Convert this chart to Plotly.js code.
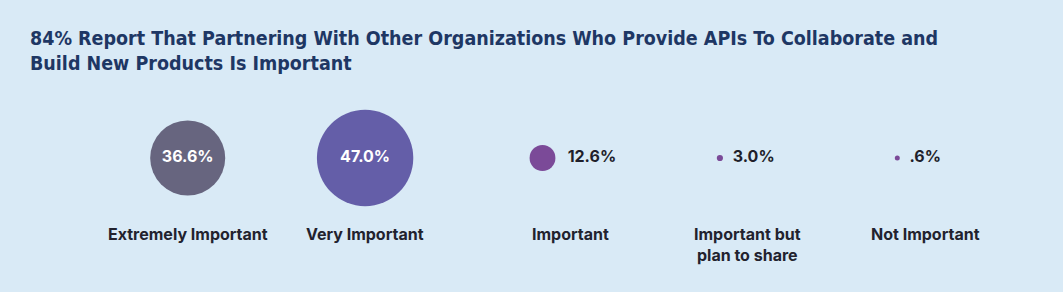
<!DOCTYPE html>
<html>
<head>
<meta charset="utf-8">
<script src="https://cdn.plot.ly/plotly-3.0.1.min.js"></script>
<style>
  html, body { margin: 0; padding: 0; background: #d9eaf6; }
  #chart { width: 1063px; height: 292px; }
</style>
</head>
<body>
<div id="chart"></div>
<script>
// ---- data ----
const categories = ["Extremely Important", "Very Important", "Important", "Important but plan to share", "Not Important"];
const categoryLabels = ["Extremely Important", "Very Important", "Important", "Important but<br>plan to share", "Not Important"];
const shares = [36.6, 47.0, 12.6, 3.0, 0.6];
const shareLabels = ["36.6%", "47.0%", "12.6%", "3.0%", ".6%"];

// ---- styles ----
const markerColors = ["#67657f", "#645ea8", "#7b4a98", "#7b4a98", "#7b4a98"];
const insideThreshold = 20;
const sizePerPoint = 2.05;
const minSize = 5;

const isInside = shares.map(v => v >= insideThreshold);
const sizes = shares.map(v => Math.max(v * sizePerPoint, minSize));

const trace = {
  type: "scatter",
  mode: "markers+text",
  x: categories,
  y: categories.map(() => 0),
  text: shareLabels.map((t, i) => isInside[i] ? t : "\u2002" + t),
  textposition: isInside.map(b => b ? "middle center" : "middle right"),
  textfont: {
    family: "Inter, 'Noto Sans', sans-serif",
    size: 16,
    weight: 700,
    color: isInside.map(b => b ? "#ffffff" : "#1f1f2b")
  },
  marker: {
    size: sizes,
    sizemode: "diameter",
    color: markerColors,
    opacity: 1,
    line: { width: 0 }
  },
  hoverinfo: "skip",
  cliponaxis: false
};

const labelShift = 28;
const annotations = categories.map((c, i) => ({
  x: c,
  xref: "x",
  y: 0,
  yref: "paper",
  yanchor: "top",
  yshift: 14,
  xshift: isInside[i] ? 0 : labelShift,
  text: categoryLabels[i],
  showarrow: false,
  align: "center",
  font: { family: "Inter, 'Noto Sans', sans-serif", size: 16, weight: 700, color: "#22222e" }
}));

const layout = {
  width: 1063,
  height: 292,
  paper_bgcolor: "#d9eaf6",
  plot_bgcolor: "#d9eaf6",
  margin: { l: 99, r: 77, t: 80, b: 56 },
  showlegend: false,
  hovermode: false,
  title: {
    text: "84% Report That Partnering With Other Organizations Who Provide APIs To Collaborate and<br>Build New Products Is Important",
    font: { family: "'DejaVu Sans Condensed', 'DejaVu Sans', sans-serif", size: 19.5, weight: 700, color: "#1e3764" },
    xref: "container",
    x: 30 / 1063,
    xanchor: "left",
    yref: "container",
    y: 1 - 45 / 292,
    yanchor: "top",
    automargin: false
  },
  xaxis: {
    type: "category",
    range: [-0.5, 4.5],
    showgrid: false, zeroline: false, showticklabels: false, showline: false, ticks: "",
    fixedrange: true
  },
  yaxis: {
    range: [-1, 1],
    showgrid: false, zeroline: false, showticklabels: false, showline: false, ticks: "",
    fixedrange: true
  },
  annotations: annotations
};

Plotly.newPlot("chart", [trace], layout, { displayModeBar: false, staticPlot: true });
</script>
</body>
</html>
